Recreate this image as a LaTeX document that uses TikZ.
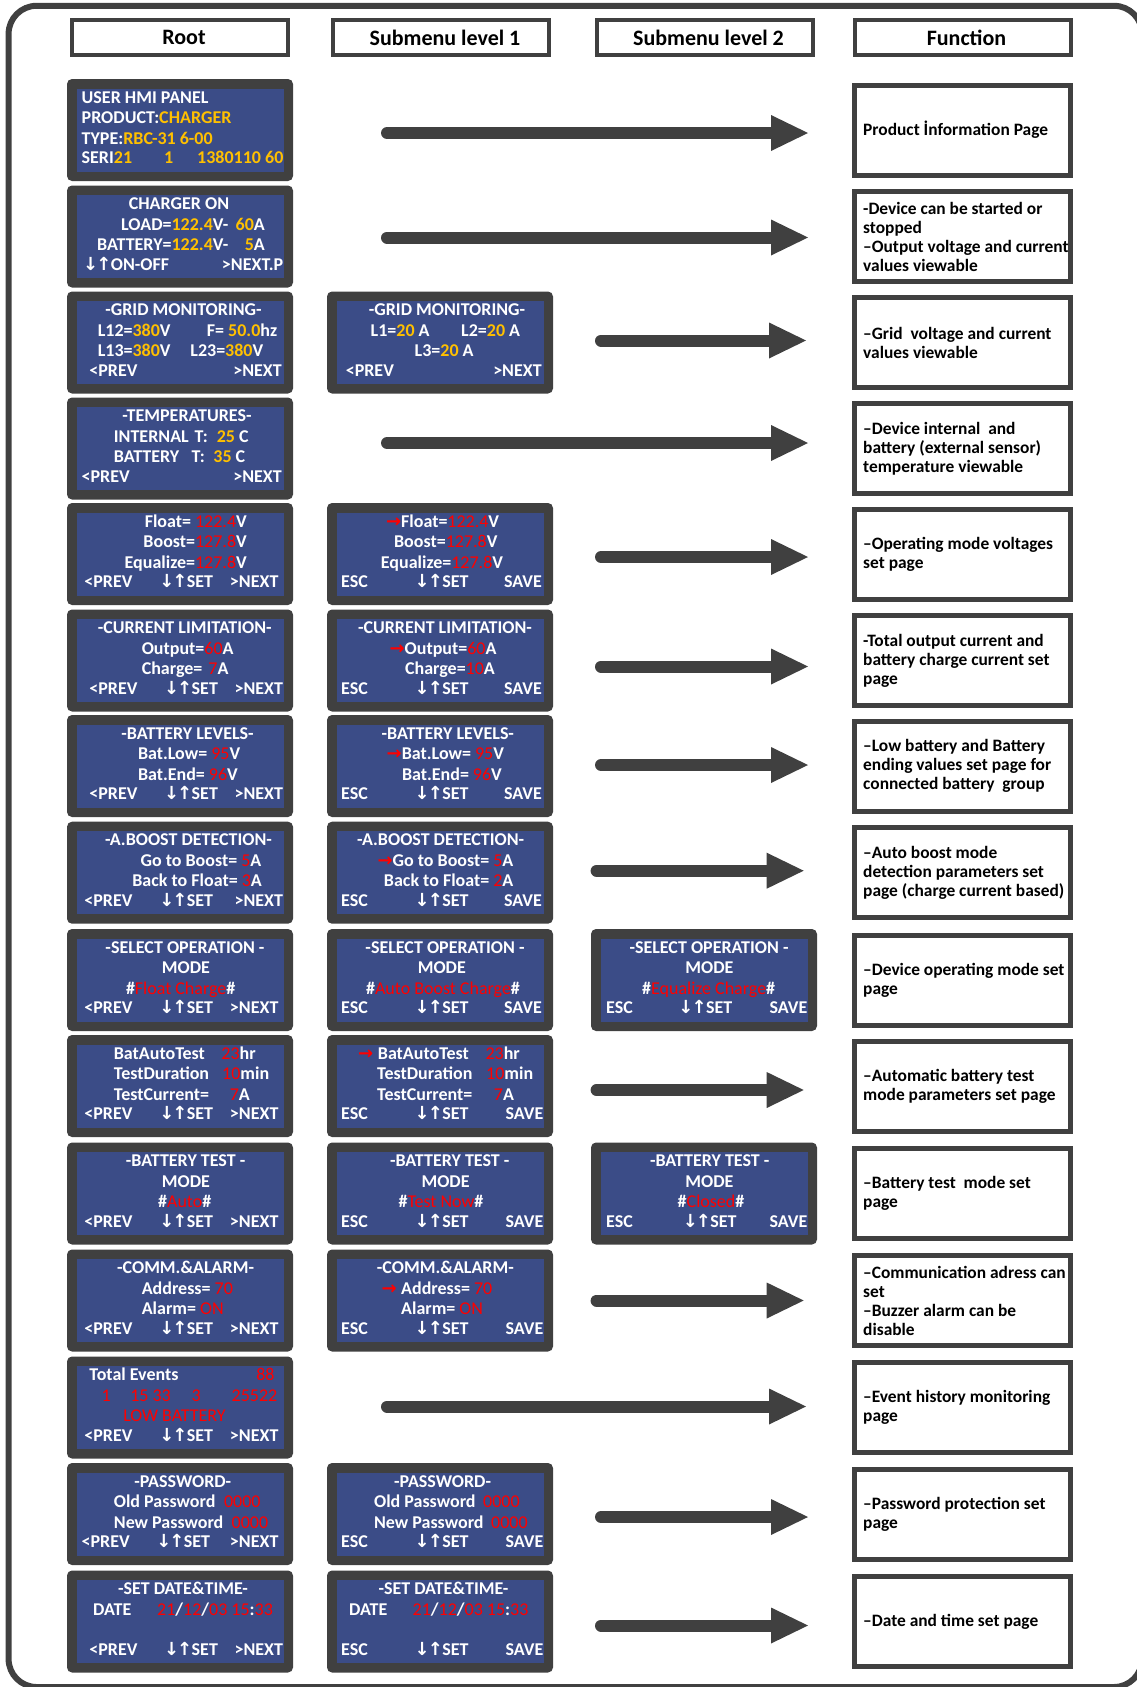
\documentclass[tikz,border=0pt]{standalone}
\usepackage{fontspec}
\setmainfont{Carlito}
\newfontfamily\arrowfont{DejaVu Sans}
\usetikzlibrary{arrows.meta}
\definecolor{dark}{RGB}{64,64,64}
\definecolor{lcdblue}{RGB}{59,76,135}
\definecolor{lcdorange}{RGB}{255,192,0}
\definecolor{lcdred}{RGB}{255,0,0}
\newcommand\lcdfont{\fontsize{18}{20}\selectfont\bfseries}
\newcommand\lcdY[1]{\textcolor{lcdorange}{#1}}
\newcommand\lcdR[1]{\textcolor{lcdred}{\mdseries #1}}
\newcommand\arDU{{\arrowfont\bfseries ↓\kern-2pt↑\kern-0.5pt}}
\newcommand\arR{{\arrowfont\bfseries →}}
\newcommand\datestr{\lcdR{21}/\lcdR{12}/\lcdR{03} \lcdR{15}:\lcdR{33}}
\newcounter{tn}
\newcommand\txw[3]{\stepcounter{tn}\node[lw] (t\arabic{tn}) at (#1,#2) {#3};}
\newcommand\txc[3]{\stepcounter{tn}\node[lc] (t\arabic{tn}) at (#1,#2) {#3};}
\newcommand\txe[3]{\stepcounter{tn}\node[le] (t\arabic{tn}) at (#1,#2) {#3};}
\newcommand\navR[3]{\txw{#1}{84.5}{<PREV}\txc{#2}{84.5}{\arDU SET}\txe{#3}{84.5}{>NEXT}}
\newcommand\navS[3]{\txw{#1}{84.5}{ESC}\txc{#2}{84.5}{\arDU SET}\txe{#3}{84.5}{SAVE}}
\newcommand\lcdbox[3]{\node[lcd] (#1) at (#2,#3) {};
  \fill[lcdblue] ([xshift=9.5pt,yshift=-9.5pt]#1.north west) rectangle ([xshift=-9.5pt,yshift=9.5pt]#1.south east);}
\begin{document}
\begin{tikzpicture}[x=1pt,y=-1pt,
  lcd/.style={fill=dark, rounded corners=5pt, minimum width=226pt, minimum height=102pt, inner sep=0pt, outer sep=0pt},
  lw/.style={anchor=base west, inner sep=0pt, text=white, font=\lcdfont},
  lc/.style={anchor=base, inner sep=0pt, text=white, font=\lcdfont},
  le/.style={anchor=base east, inner sep=0pt, text=white, font=\lcdfont},
  hdr/.style={draw=dark, line width=4pt, fill=white, minimum width=216pt, minimum height=35pt, inner sep=0pt, font=\fontsize{22}{24}\selectfont\bfseries},
  fbox/.style={draw=dark, line width=5pt, fill=white, minimum width=216pt, minimum height=90pt, inner sep=0pt},
  ftext/.style={anchor=west, align=left, inner sep=0pt, font=\fontsize{17.4}{19}\selectfont\bfseries},
  bigarrow/.style={draw=dark, line width=12pt, line cap=round, -{Triangle[length=37pt 0 0, width=36pt 0 0, line width=0pt 0 0]}}
]
\useasboundingbox (0,0) rectangle (1137,1687);
\draw[dark, line width=6pt, rounded corners=28pt] (8.6,5.8) rectangle (1142,1687);

% headers
\node[hdr] (h1) at (180,37.5) {\hspace*{8pt}Root};
\node[hdr] (h2) at (441,37.5) {\hspace*{8pt}Submenu level 1};
\node[hdr] (h3) at (704.5,37.5) {\hspace*{8pt}Submenu level 2};
\node[hdr] (h4) at (962.5,37.5) {\hspace*{8pt}Function};

% LCD boxes
\lcdbox{r1}{180}{130}
\lcdbox{r2}{180}{236.5}
\lcdbox{r3}{180}{342.5}
\lcdbox{r4}{180}{448.5}
\lcdbox{r5}{180}{554}
\lcdbox{r6}{180}{660.5}
\lcdbox{r7}{180}{766}
\lcdbox{r8}{180}{872.7}
\lcdbox{r9}{180}{980}
\lcdbox{r10}{180}{1086}
\lcdbox{r11}{180}{1193.5}
\lcdbox{r12}{180}{1300.5}
\lcdbox{r13}{180}{1407.5}
\lcdbox{r14}{180}{1514}
\lcdbox{r15}{180}{1621.5}
\lcdbox{s3}{440}{342.5}
\lcdbox{s5}{440}{554}
\lcdbox{s6}{440}{660.5}
\lcdbox{s7}{440}{766}
\lcdbox{s8}{440}{872.7}
\lcdbox{s9}{440}{980}
\lcdbox{s10}{440}{1086}
\lcdbox{s11}{440}{1193.5}
\lcdbox{s12}{440}{1300.5}
\lcdbox{s14}{440}{1514}
\lcdbox{s15}{440}{1621.5}
\lcdbox{u9}{704}{980}
\lcdbox{u11}{704}{1193.5}

% row 1
\begin{scope}[shift={(r1.north west)}]
\txw{14.5}{24}{USER HMI PANEL}
\txw{14.5}{44.5}{PRODUCT:\lcdY{CHARGER}}
\txw{14.5}{65}{TYPE:\lcdY{RBC-31 6-00}}
\txw{14.5}{84.5}{SERI\lcdY{21}}
\txw{96.8}{84.5}{\lcdY{1}}
\txw{130}{84.5}{\lcdY{1380110 60}}
\end{scope}
% row 2
\begin{scope}[shift={(r2.north west)}]
\txc{112}{24}{CHARGER ON}
\txe{161.5}{44.5}{LOAD=\lcdY{122.4}V-}
\txe{198}{44.5}{\lcdY{60}A}
\txe{161.5}{65}{BATTERY=\lcdY{122.4}V-}
\txe{198}{65}{\lcdY{5}A}
\txw{16}{84.5}{\arDU ON-OFF}
\txe{216.5}{84.5}{>NEXT.P}
\end{scope}
% row 3
\begin{scope}[shift={(r3.north west)}]
\txc{116.5}{24}{-GRID MONITORING-}
\txw{30.6}{44.5}{L12=\lcdY{380}V}
\txw{139.7}{44.5}{F= \lcdY{50.0}hz}
\txw{30.6}{65}{L13=\lcdY{380}V}
\txw{123.2}{65}{L23=\lcdY{380}V}
\txw{22.2}{84.5}{<PREV}
\txe{215}{84.5}{>NEXT}
\end{scope}
\begin{scope}[shift={(s3.north west)}]
\txc{120}{24}{-GRID MONITORING-}
\txw{43.5}{44.5}{L1=\lcdY{20} A}
\txw{134}{44.5}{L2=\lcdY{20} A}
\txw{87.5}{65}{L3=\lcdY{20} A}
\txw{18.6}{84.5}{<PREV}
\txe{214.9}{84.5}{>NEXT}
\end{scope}
% row 4
\begin{scope}[shift={(r4.north west)}]
\txc{120}{24}{-TEMPERATURES-}
\txw{46.7}{44.5}{INTERNAL}
\txw{127.4}{44.5}{T:}
\txw{149.6}{44.5}{\lcdY{25} C}
\txw{46.7}{65}{BATTERY}
\txw{124.4}{65}{T:}
\txw{146.2}{65}{\lcdY{35} C}
\txw{14.5}{84.5}{<PREV}
\txe{215}{84.5}{>NEXT}
\end{scope}
% row 5
\begin{scope}[shift={(r5.north west)}]
\txe{180}{24}{Float= \lcdR{122.4}V}
\txe{180}{44.5}{Boost=\lcdR{127.8}V}
\txe{180}{65}{Equalize=\lcdR{127.8}V}
\navR{17.2}{119.2}{211.6}
\end{scope}
\begin{scope}[shift={(s5.north west)}]
\txc{115.6}{24}{\lcdR{\arR}Float=\lcdR{122.4}V}
\txc{118.8}{44.5}{Boost=\lcdR{127.8}V}
\txc{115}{65}{Equalize=\lcdR{127.8}V}
\navS{14}{114.6}{215}
\end{scope}
% row 6
\begin{scope}[shift={(r6.north west)}]
\txc{117.7}{24}{-CURRENT LIMITATION-}
\txw{74.6}{44.5}{Output=\lcdR{60}A}
\txw{74.6}{65}{Charge=\hspace{6pt}\lcdR{7}A}
\navR{22.2}{124}{216.2}
\end{scope}
\begin{scope}[shift={(s6.north west)}]
\txc{118}{24}{-CURRENT LIMITATION-}
\txc{116}{44.5}{\lcdR{\arR}Output=\lcdR{60}A}
\txc{123}{65}{Charge=\lcdR{10}A}
\navS{14}{114.6}{215}
\end{scope}
% row 7
\begin{scope}[shift={(r7.north west)}]
\txc{120.5}{24}{-BATTERY LEVELS-}
\txw{70.8}{44.5}{Bat.Low= \lcdR{95}V}
\txw{70.8}{65}{Bat.End= \lcdR{96}V}
\navR{22.2}{124}{216.2}
\end{scope}
\begin{scope}[shift={(s7.north west)}]
\txc{120.8}{24}{-BATTERY LEVELS-}
\txw{59.5}{44.5}{\lcdR{\arR}Bat.Low= \lcdR{95}V}
\txw{74.8}{65}{Bat.End= \lcdR{96}V}
\navS{14}{114.6}{215}
\end{scope}
% row 8
\begin{scope}[shift={(r8.north west)}]
\txc{121.5}{24}{-A.BOOST DETECTION-}
\txe{194.5}{44.5}{Go to Boost= \lcdR{5}A}
\txe{195}{65}{Back to Float= \lcdR{3}A}
\navR{17.2}{119.2}{216.2}
\end{scope}
\begin{scope}[shift={(s8.north west)}]
\txc{113.7}{24}{-A.BOOST DETECTION-}
\txe{186.6}{44.5}{\lcdR{\arR}Go to Boost= \lcdR{5}A}
\txe{186.6}{65}{Back to Float= \lcdR{2}A}
\navS{14}{114.6}{215}
\end{scope}
% row 9
\begin{scope}[shift={(r9.north west)}]
\txc{118}{24}{-SELECT OPERATION -}
\txc{119}{44.5}{MODE}
\txc{113.7}{65}{\#\lcdR{Float Charge}\#}
\navR{17.2}{119.2}{211.6}
\end{scope}
\begin{scope}[shift={(s9.north west)}]
\txc{118}{24}{-SELECT OPERATION -}
\txc{114.8}{44.5}{MODE}
\txc{116}{65}{\#\lcdR{Auto Boost Charge}\#}
\navS{14}{114.6}{215}
\end{scope}
\begin{scope}[shift={(u9.north west)}]
\txc{118}{24}{-SELECT OPERATION -}
\txc{118.5}{44.5}{MODE}
\txc{117.7}{65}{\#\lcdR{Equalize Charge}\#}
\navS{15}{114.4}{216.5}
\end{scope}
% row 10
\begin{scope}[shift={(r10.north west)}]
\txw{46.7}{24}{BatAutoTest}
\txw{154.2}{24}{\lcdR{23}hr}
\txw{46.7}{44.5}{TestDuration}
\txw{155}{44.5}{\lcdR{10}min}
\txw{46.7}{65}{TestCurrent=}
\txw{162.6}{65}{\lcdR{7}A}
\navR{17.2}{119.2}{211.6}
\end{scope}
\begin{scope}[shift={(s10.north west)}]
\txw{30.8}{24}{\lcdR{\arR}}
\txw{50.7}{24}{BatAutoTest}
\txw{158.3}{24}{\lcdR{23}hr}
\txw{50}{44.5}{TestDuration}
\txw{159}{44.5}{\lcdR{10}min}
\txw{50}{65}{TestCurrent=}
\txw{166.7}{65}{\lcdR{7}A}
\navS{14}{114.6}{216.5}
\end{scope}
% row 11
\begin{scope}[shift={(r11.north west)}]
\txc{118.6}{24}{-BATTERY TEST -}
\txc{119}{44.5}{MODE}
\txc{117.7}{65}{\#\lcdR{Auto}\#}
\navR{17.2}{119.2}{211.6}
\end{scope}
\begin{scope}[shift={(s11.north west)}]
\txc{122.7}{24}{-BATTERY TEST -}
\txc{118.6}{44.5}{MODE}
\txc{114}{65}{\#\lcdR{Test Now}\#}
\navS{14}{114.6}{216.5}
\end{scope}
\begin{scope}[shift={(u11.north west)}]
\txc{118.7}{24}{-BATTERY TEST -}
\txc{118.5}{44.5}{MODE}
\txc{120}{65}{\#\lcdR{Closed}\#}
\navS{15}{118.7}{216.5}
\end{scope}
% row 12
\begin{scope}[shift={(r12.north west)}]
\txc{118.6}{24}{-COMM.\&ALARM-}
\txw{74.6}{44.5}{Address= \lcdR{70}}
\txw{74.6}{65}{Alarm= \lcdR{ON}}
\navR{17.2}{119.2}{211.6}
\end{scope}
\begin{scope}[shift={(s12.north west)}]
\txc{118.4}{24}{-COMM.\&ALARM-}
\txw{54.5}{44.5}{\lcdR{\arR}}
\txw{74}{44.5}{Address= \lcdR{70}}
\txw{74}{65}{Alarm= \lcdR{ON}}
\navS{14}{114.6}{216.5}
\end{scope}
% row 13
\begin{scope}[shift={(r13.north west)}]
\txw{22.2}{24}{Total Events}
\txe{207.8}{24}{\lcdR{88}}
\txw{34.4}{44.5}{\lcdR{1}}
\txw{63.1}{44.5}{\lcdR{15 33}}
\txw{124.4}{44.5}{\lcdR{3}}
\txe{210.5}{44.5}{\lcdR{25522}}
\txc{107.5}{65}{\lcdR{LOW BATTERY}}
\navR{17.2}{119.2}{211.6}
\end{scope}
% row 14
\begin{scope}[shift={(r14.north west)}]
\txc{115.8}{24}{-PASSWORD-}
\txw{46.7}{44.5}{Old Password}
\txw{156.9}{44.5}{\lcdR{0000}}
\txw{46.7}{65}{New Password}
\txw{164.5}{65}{\lcdR{0000}}
\navR{14.5}{116.2}{211.6}
\end{scope}
\begin{scope}[shift={(s14.north west)}]
\txc{115.6}{24}{-PASSWORD-}
\txw{46.9}{44.5}{Old Password}
\txw{156}{44.5}{\lcdR{0000}}
\txw{46.9}{65}{New Password}
\txw{164}{65}{\lcdR{0000}}
\navS{14}{114.6}{216.5}
\end{scope}
% row 15
\begin{scope}[shift={(r15.north west)}]
\txc{116}{24}{-SET DATE\&TIME-}
\txw{26}{44.5}{DATE}
\txw{90}{44.5}{\datestr}
\navR{22.2}{124}{216.2}
\end{scope}
\begin{scope}[shift={(s15.north west)}]
\txc{116.5}{24}{-SET DATE\&TIME-}
\txw{22}{44.5}{DATE}
\txw{85.5}{44.5}{\datestr}
\navS{14}{114.6}{216.5}
\end{scope}

% function boxes
\node[fbox] (f1) at (962.5,130) {};
\node[fbox] (f2) at (962.5,236.5) {};
\node[fbox] (f3) at (962.5,342.5) {};
\node[fbox] (f4) at (962.5,448.5) {};
\node[fbox] (f5) at (962.5,554) {};
\node[fbox] (f6) at (962.5,660.5) {};
\node[fbox] (f7) at (962.5,766) {};
\node[fbox] (f8) at (962.5,872.7) {};
\node[fbox] (f9) at (962.5,980) {};
\node[fbox] (f10) at (962.5,1086) {};
\node[fbox] (f11) at (962.5,1193.5) {};
\node[fbox] (f12) at (962.5,1300.5) {};
\node[fbox] (f13) at (962.5,1407.5) {};
\node[fbox] (f14) at (962.5,1514) {};
\node[fbox] (f15) at (962.5,1621.5) {};
\node[ftext] (ft1) at ([xshift=11pt]f1.west) {Product İnformation Page};
\node[ftext] (ft2) at ([xshift=11pt]f2.west) {-Device can be started or\\stopped\\–Output voltage and current\\values viewable};
\node[ftext] (ft3) at ([xshift=11pt]f3.west) {–Grid\ \ voltage and current\\values viewable};
\node[ftext] (ft4) at ([xshift=11pt]f4.west) {–Device internal\ \ and\\battery (external sensor)\\temperature viewable};
\node[ftext] (ft5) at ([xshift=11pt]f5.west) {–Operating mode voltages\\set page};
\node[ftext] (ft6) at ([xshift=11pt]f6.west) {-Total output current and\\battery charge current set\\page};
\node[ftext] (ft7) at ([xshift=11pt]f7.west) {–Low battery and Battery\\ending values set page for\\connected battery\ \ group};
\node[ftext] (ft8) at ([xshift=11pt]f8.west) {–Auto boost mode\\detection parameters set\\page (charge current based)};
\node[ftext] (ft9) at ([xshift=11pt]f9.west) {–Device operating mode set\\page};
\node[ftext] (ft10) at ([xshift=11pt]f10.west) {–Automatic battery test\\mode parameters set page};
\node[ftext] (ft11) at ([xshift=11pt]f11.west) {–Battery test\ \ mode set\\page};
\node[ftext] (ft12) at ([xshift=11pt]f12.west) {–Communication adress can\\set\\–Buzzer alarm can be\\disable};
\node[ftext] (ft13) at ([xshift=11pt]f13.west) {–Event history monitoring\\page};
\node[ftext] (ft14) at ([xshift=11pt]f14.west) {–Password protection set\\page};
\node[ftext] (ft15) at ([xshift=11pt]f15.west) {–Date and time set page};

% arrows
\draw[bigarrow] ([xshift=94pt,yshift=-3pt]r1.east) -- ([xshift=-44pt,yshift=-3pt]f1.west);
\draw[bigarrow] ([xshift=94pt,yshift=-1pt]r2.east) -- ([xshift=-44pt,yshift=-1pt]f2.west);
\draw[bigarrow] ([xshift=48pt,yshift=2pt]s3.east) -- ([xshift=-46pt,yshift=2pt]f3.west);
\draw[bigarrow] ([xshift=94pt,yshift=5.5pt]r4.east) -- ([xshift=-44pt,yshift=5.5pt]f4.west);
\draw[bigarrow] ([xshift=48pt,yshift=-3pt]s5.east) -- ([xshift=-44pt,yshift=-3pt]f5.west);
\draw[bigarrow] ([xshift=48pt,yshift=-6pt]s6.east) -- ([xshift=-44pt,yshift=-6pt]f6.west);
\draw[bigarrow] ([xshift=48pt,yshift=1pt]s7.east) -- ([xshift=-44pt,yshift=1pt]f7.west);
\draw[bigarrow] ([xshift=43.6pt,yshift=2pt]s8.east) -- ([xshift=-48.3pt,yshift=2pt]f8.west);
\draw[bigarrow] ([xshift=43.6pt,yshift=-4pt]s10.east) -- ([xshift=-48.3pt,yshift=-4pt]f10.west);
\draw[bigarrow] ([xshift=43.6pt]s12.east) -- ([xshift=-48.3pt]f12.west);
\draw[bigarrow] ([xshift=94pt,yshift=1pt]r13.east) -- ([xshift=-46pt,yshift=1pt]f13.west);
\draw[bigarrow] ([xshift=48pt,yshift=-3pt]s14.east) -- ([xshift=-44pt,yshift=-3pt]f14.west);
\draw[bigarrow] ([xshift=48pt,yshift=-4pt]s15.east) -- ([xshift=-44pt,yshift=-4pt]f15.west);
\end{tikzpicture}
\end{document}
